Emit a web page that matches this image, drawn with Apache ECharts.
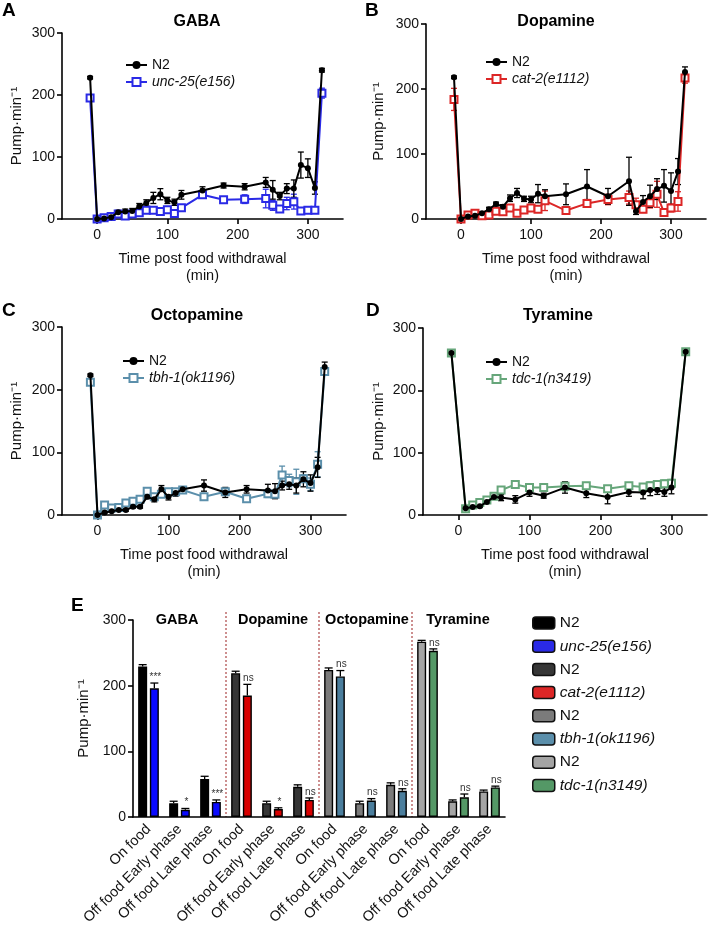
<!DOCTYPE html>
<html><head><meta charset="utf-8">
<script src="https://cdn.jsdelivr.net/npm/echarts@6/dist/echarts.min.js"></script>
<style>html,body{margin:0;padding:0;background:#fff}#c{width:709px;height:932px}</style>
</head><body><div id="c"></div>
<script>
// ---------- DATA ----------
const timesABC = [-10,0,10,20,30,40,50,60,70,80,90,100,110,120,150,180,210,240,250,260,270,280,290,300,310,320];
const timesD = [-10,10,20,30,40,50,60,80,100,120,150,180,210,240,260,270,280,290,300,320];
const timeTicks = [0,100,200,300];

const gabaN2 = [228,0,1,3,11,12,13,20,26,34,40,30,27,39,46,54,52,59,47,37,49,49,87,82,50,240];
const gabaN2Err = [2,1,1,2,3,4,4,5,5,9,9,5,5,7,6,4,5,8,15,6,8,14,21,15,10,3];
const unc25 = [195,0,2,4,8,5,8,10,14,14,12,15,9,18,39,31,32,33,22,16,25,28,13,14,14,203];
const unc25Err = [4,1,1,1,2,2,2,2,3,3,3,3,3,4,4,5,7,15,8,5,10,12,4,3,3,8];

const dopaN2 = [218,0,4,5,9,15,23,19,32,40,31,30,39,35,38,50,35,58,12,26,35,46,51,43,73,226];
const dopaN2Err = [2,1,1,2,2,3,3,3,5,7,4,5,14,10,16,26,12,37,5,10,17,16,25,28,20,8];
const cat2 = [184,0,6,9,5,6,12,11,17,9,14,17,15,28,13,24,30,33,22,15,25,38,10,17,27,217];
const cat2Err = [17,1,2,2,2,3,3,3,4,3,3,4,4,15,4,6,8,10,10,5,8,20,3,6,15,8];

const octoN2 = [223,0,4,6,8,8,13,13,29,25,41,29,35,41,47,36,41,39,38,47,49,47,57,51,76,236];
const octoN2Err = [2,1,1,1,1,2,2,2,3,4,6,5,5,4,9,8,6,10,12,7,8,12,12,13,16,8];
const tbh1 = [212,0,16,11,12,19,22,25,38,29,33,37,37,40,29,37,26,34,33,64,55,53,58,49,81,229];
const tbh1Err = [5,1,2,2,2,2,2,2,4,4,4,4,4,4,4,4,5,6,5,14,10,20,6,10,20,5];

const tyrN2 = [260,11,13,14,21,29,28,25,36,31,44,35,29,37,36,40,40,37,44,262];
const tyrN2Err = [3,1,1,2,2,3,5,6,6,4,9,7,11,7,10,9,7,7,10,3];
const tdc1 = [260,10,16,20,24,30,40,49,44,44,46,47,42,47,45,47,49,50,51,262];
const tdc1Err = [3,2,2,3,3,3,4,4,4,5,7,5,5,4,5,6,6,6,6,3];

const barConditions = ['On food','Off food Early phase','Off food Late phase'];
const barGroups = ['GABA','Dopamine','Octopamine','Tyramine'];
const barMutantNames = ['unc-25(e156)','cat-2(e1112)','tbh-1(ok1196)','tdc-1(n3149)'];
const barGabaN2 = [229,21,58];   const barGabaN2Err = [3,3,4];
const barGabaMut = [196,11,23];  const barGabaMutErr = [8,2,3];
const barDopaN2 = [219,21,46];   const barDopaN2Err = [3,3,3];
const barDopaMut = [185,12,26];  const barDopaMutErr = [17,2,3];
const barOctoN2 = [224,21,49];   const barOctoN2Err = [3,3,3];
const barOctoMut = [214,25,40];  const barOctoMutErr = [9,3,3];
const barTyrN2 = [267,24,39];    const barTyrN2Err = [2,2,2];
const barTyrMut = [253,30,45];   const barTyrMutErr = [3,5,2];
const sigGaba = ['***','*','***'];
const sigDopa = ['ns','*','ns'];
const sigOcto = ['ns','ns','ns'];
const sigTyr = ['ns','ns','ns'];

// ---------- STYLE ----------
const FF = "'Liberation Sans', Arial, sans-serif";
const Y_NAME = 'Pump·min⁻¹';
const lineMutColors = ['#2a2ae6','#dc2626','#5b8fab','#66a67a'];
const barN2Colors = ['#000000','#363636','#7b7b7b','#a4a4a4'];
const barMutColors = ['#0a0aff','#d80000','#4b7e9d','#549866'];

const grids = [
  {left:62, top:33, width:281, height:186},
  {left:426, top:24, width:280, height:195},
  {left:62, top:327, width:284, height:188},
  {left:423, top:328, width:284, height:187},
  {left:133, top:620, width:372, height:197}
];
const yNameGaps = [38,40,38,37];

function errRender(color, cap, offset, upOnly, sigArr) {
  return function (params, api) {
    const x = api.value(0), y = api.value(1), e = api.value(2);
    const base = api.coord([x, y]);
    const top = api.coord([x, y + e]);
    const bot = upOnly ? base : api.coord([x, Math.max(0, y - e)]);
    const cx = base[0] + offset;
    const st = {stroke: color, lineWidth: 1.3};
    const ch = [
      {type:'line', shape:{x1:cx, y1:top[1], x2:cx, y2:bot[1]}, style:st},
      {type:'line', shape:{x1:cx-cap, y1:top[1], x2:cx+cap, y2:top[1]}, style:st}
    ];
    if (!upOnly) ch.push({type:'line', shape:{x1:cx-cap, y1:bot[1], x2:cx+cap, y2:bot[1]}, style:st});
    if (sigArr) {
      ch.push({type:'text', x: cx + 1, y: top[1] - 1,
        style:{text: sigArr[params.dataIndex], fill:'#333', font:'10px ' + FF,
               align:'center', verticalAlign:'bottom', textAlign:'center', textVerticalAlign:'bottom'}});
    }
    return {type:'group', children: ch};
  };
}

const xAxes = [], yAxes = [], series = [], legends = [];
const panels = [
  {times: timesABC, n2: gabaN2, n2e: gabaN2Err, mut: unc25, mute: unc25Err, name: 'unc-25(e156)'},
  {times: timesABC, n2: dopaN2, n2e: dopaN2Err, mut: cat2, mute: cat2Err, name: 'cat-2(e1112)'},
  {times: timesABC, n2: octoN2, n2e: octoN2Err, mut: tbh1, mute: tbh1Err, name: 'tbh-1(ok1196)'},
  {times: timesD, n2: tyrN2, n2e: tyrN2Err, mut: tdc1, mute: tdc1Err, name: 'tdc-1(n3419)'}
];
const legendPos = [[120,53],[480,50],[117,349],[480,350]];

panels.forEach((p, i) => {
  xAxes.push({
    type:'value', gridIndex:i, min:-50, max:350,
    name:'Time post food withdrawal\n(min)', nameLocation:'middle', nameGap:31,
    nameTextStyle:{fontFamily:FF, fontSize:14.5, color:'#111', lineHeight:17},
    axisLine:{onZero:false, lineStyle:{color:'#000', width:1.6}},
    axisTick:{customValues: timeTicks, length:5, lineStyle:{color:'#000', width:1.6}},
    axisLabel:{customValues: timeTicks, fontFamily:FF, fontSize:14, color:'#111', margin:9},
    splitLine:{show:false}
  });
  yAxes.push({
    type:'value', gridIndex:i, min:0, max:300, interval:100,
    name:Y_NAME, nameLocation:'middle', nameGap:yNameGaps[i], nameRotate:90,
    nameTextStyle:{fontFamily:FF, fontSize:15, color:'#111'},
    axisLine:{show:true, onZero:false, lineStyle:{color:'#000', width:1.6}},
    axisTick:{show:true, length:5, lineStyle:{color:'#000', width:1.6}},
    axisLabel:{fontFamily:FF, fontSize:14, color:'#111', margin:7},
    splitLine:{show:false}
  });
  const n2Data = p.times.map((t, k) => [t, p.n2[k]]);
  const mutData = p.times.map((t, k) => [t, p.mut[k]]);
  series.push({
    type:'custom', xAxisIndex:i, yAxisIndex:i, z:1, silent:true,
    renderItem: errRender(lineMutColors[i], 3, 0, false, null),
    data: p.times.map((t, k) => [t, p.mut[k], p.mute[k]])
  });
  series.push({
    type:'custom', xAxisIndex:i, yAxisIndex:i, z:1, silent:true,
    renderItem: errRender('#000', 3, 0, false, null),
    data: p.times.map((t, k) => [t, p.n2[k], p.n2e[k]])
  });
  series.push({
    name:'N2', type:'line', xAxisIndex:i, yAxisIndex:i, z:4, data:n2Data,
    symbol:'circle', symbolSize:6, color:'#000',
    lineStyle:{color:'#000', width:2}, itemStyle:{color:'#000'}, animation:false
  });
  series.push({
    name:p.name, type:'line', xAxisIndex:i, yAxisIndex:i, z:3, data:mutData,
    symbol:'emptyRect', symbolSize:7, color:lineMutColors[i],
    lineStyle:{color:lineMutColors[i], width:2}, itemStyle:{color:lineMutColors[i], borderWidth:1.6}, animation:false
  });
  legends.push({
    left:legendPos[i][0], top:legendPos[i][1], orient:'vertical', itemWidth:21, itemHeight:10, itemGap:3,
    data:['N2', p.name],
    formatter: n => n === 'N2' ? n : '{i|' + n + '}',
    textStyle:{fontFamily:FF, fontSize:14, color:'#111', rich:{i:{fontFamily:FF, fontSize:14, fontStyle:'italic', color:'#111'}}}
  });
});

// ---------- Panel E (bars) ----------
const barCats = [];
barGroups.forEach(() => barConditions.forEach(c => barCats.push(c)));
xAxes.push({
  type:'category', gridIndex:4, data:barCats,
  axisLine:{lineStyle:{color:'#000', width:1.6}},
  axisTick:{alignWithLabel:true, length:5, lineStyle:{color:'#000', width:1.6}},
  axisLabel:{interval:0, rotate:45, fontFamily:FF, fontSize:14.5, color:'#111', margin:10},
  splitLine:{show:false}
});
yAxes.push({
  type:'value', gridIndex:4, min:0, max:300, interval:100,
  name:Y_NAME, nameLocation:'middle', nameGap:42, nameRotate:90,
  nameTextStyle:{fontFamily:FF, fontSize:15, color:'#111'},
  axisLine:{show:true, lineStyle:{color:'#000', width:1.6}},
  axisTick:{show:true, length:5, lineStyle:{color:'#000', width:1.6}},
  axisLabel:{fontFamily:FF, fontSize:14, color:'#111', margin:7},
  splitLine:{show:false}
});
// group separators (dotted red) between the neurotransmitter groups
const separatorData = barGroups.slice(1).map((g, k) => [(k + 1) * barConditions.length]);
series.push({
  type:'custom', xAxisIndex:4, yAxisIndex:4, z:0, silent:true, data:separatorData,
  renderItem: function (params, api) {
    const idx = api.value(0);
    const a = api.coord([idx - 1, 0]), b = api.coord([idx, 0]);
    const x = (a[0] + b[0]) / 2;
    const cs = params.coordSys;
    return {type:'line', shape:{x1:x, y1:cs.y - 8, x2:x, y2:cs.y + cs.height},
      style:{stroke:'#9b2020', lineWidth:1, lineDash:[2,2]}};
  }
});
const barN2Sets = [[barGabaN2,barGabaN2Err],[barDopaN2,barDopaN2Err],[barOctoN2,barOctoN2Err],[barTyrN2,barTyrN2Err]];
const barMutSets = [[barGabaMut,barGabaMutErr,sigGaba],[barDopaMut,barDopaMutErr,sigDopa],[barOctoMut,barOctoMutErr,sigOcto],[barTyrMut,barTyrMutErr,sigTyr]];
const barW = 9, barGapRatio = 0.3;
const barOff = (barW + barW * barGapRatio) / 2;
const n2Err = [], mutErr = [], sigAll = [];
const legendE = [];
barGroups.forEach((g, gi) => {
  const n2 = barCats.map(() => '-');
  const mu = barCats.map(() => '-');
  barConditions.forEach((c, ci) => {
    const idx = gi * 3 + ci;
    n2[idx] = barN2Sets[gi][0][ci];
    mu[idx] = barMutSets[gi][0][ci];
    n2Err.push([idx, barN2Sets[gi][0][ci], barN2Sets[gi][1][ci]]);
    mutErr.push([idx, barMutSets[gi][0][ci], barMutSets[gi][1][ci]]);
    sigAll.push(barMutSets[gi][2][ci]);
  });
  const nName = 'N2 (' + g + ')';
  series.push({name:nName, type:'bar', xAxisIndex:4, yAxisIndex:4, stack:'n2', data:n2,
    barWidth:barW, barGap:(barGapRatio*100)+'%', animation:false,
    itemStyle:{color:barN2Colors[gi], borderColor:'#000', borderWidth:1.4}});
  series.push({name:barMutantNames[gi], type:'bar', xAxisIndex:4, yAxisIndex:4, stack:'mut', data:mu,
    barWidth:barW, barGap:(barGapRatio*100)+'%', animation:false,
    itemStyle:{color:barMutColors[gi], borderColor:'#000', borderWidth:1.4}});
  legendE.push(nName, barMutantNames[gi]);
});
series.push({type:'custom', xAxisIndex:4, yAxisIndex:4, z:5, silent:true,
  renderItem: errRender('#000', 4, -barOff, true, null), data:n2Err});
series.push({type:'custom', xAxisIndex:4, yAxisIndex:4, z:5, silent:true,
  renderItem: errRender('#000', 4, barOff, true, sigAll), data:mutErr});
legends.push({
  left:527, top:610, orient:'vertical', itemWidth:22, itemHeight:12, itemGap:7.2, icon:'roundRect',
  itemStyle:{borderColor:'#111', borderWidth:1.5},
  data:legendE,
  formatter: n => n.indexOf('N2') === 0 ? 'N2' : '{i|' + n + '}',
  textStyle:{fontFamily:FF, fontSize:15.5, color:'#111', rich:{i:{fontFamily:FF, fontSize:15.5, fontStyle:'italic', color:'#111'}}}
});

// ---------- Text decorations ----------
function txt(x, y, s, font, align) {
  return {type:'text', x:x, y:y, silent:true,
    style:{text:s, font:font, fill:'#000', align:align||'left', verticalAlign:'middle',
           textAlign:align||'left', textVerticalAlign:'middle'}};
}
const BOLD_L = 'bold 19px ' + FF;
const BOLD_T = 'bold 16px ' + FF;
const BOLD_E = 'bold 14.5px ' + FF;
const graphics = [
  txt(2, 11, 'A', BOLD_L), txt(365, 11, 'B', BOLD_L),
  txt(2, 311, 'C', BOLD_L), txt(366, 311, 'D', BOLD_L), txt(71, 606, 'E', BOLD_L),
  txt(197, 22, 'GABA', BOLD_T, 'center'), txt(556, 22, 'Dopamine', BOLD_T, 'center'),
  txt(197, 316, 'Octopamine', BOLD_T, 'center'), txt(558, 316, 'Tyramine', BOLD_T, 'center'),
  txt(177, 620, barGroups[0], BOLD_E, 'center'), txt(273, 620, barGroups[1], BOLD_E, 'center'),
  txt(367, 620, barGroups[2], BOLD_E, 'center'), txt(458, 620, barGroups[3], BOLD_E, 'center')
];

const chart = echarts.init(document.getElementById('c'), null, {renderer:'canvas'});
chart.setOption({
  backgroundColor:'#fff',
  animation:false,
  grid: grids,
  xAxis: xAxes,
  yAxis: yAxes,
  legend: legends,
  series: series,
  graphic: graphics
});
</script>
</body></html>
